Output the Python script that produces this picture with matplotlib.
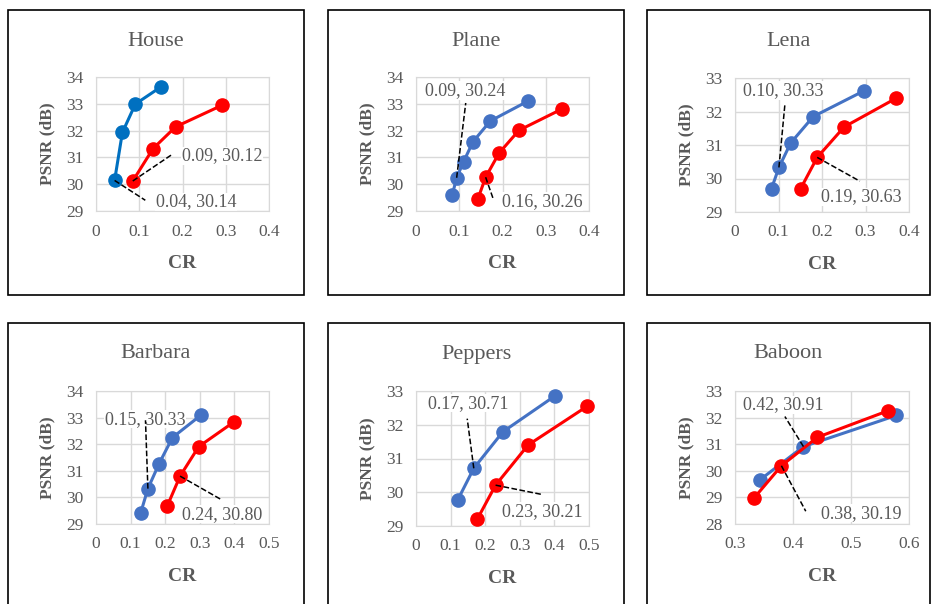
import matplotlib
matplotlib.use("Agg")
import matplotlib.pyplot as plt
from matplotlib.patches import Rectangle

plt.rcParams['font.family'] = ['Liberation Serif', 'DejaVu Serif']

W, H = 931, 604

# ---- data ----
titles = ["House", "Plane", "Lena", "Barbara", "Peppers", "Baboon"]

house_blue_x = [0.043, 0.061, 0.091, 0.150]
house_blue_y = [30.14, 31.93, 32.99, 33.63]
house_red_x = [0.085, 0.132, 0.184, 0.292]
house_red_y = [30.12, 31.33, 32.14, 32.95]

plane_blue_x = [0.084, 0.094, 0.110, 0.132, 0.172, 0.260]
plane_blue_y = [29.61, 30.24, 30.84, 31.59, 32.36, 33.11]
plane_red_x = [0.143, 0.161, 0.192, 0.238, 0.338]
plane_red_y = [29.45, 30.26, 31.16, 32.01, 32.81]

lena_blue_x = [0.084, 0.101, 0.128, 0.180, 0.297]
lena_blue_y = [29.70, 30.33, 31.06, 31.85, 32.62]
lena_red_x = [0.151, 0.189, 0.251, 0.371]
lena_red_y = [29.70, 30.63, 31.54, 32.40]

barbara_blue_x = [0.129, 0.150, 0.182, 0.221, 0.303]
barbara_blue_y = [29.41, 30.33, 31.26, 32.25, 33.09]
barbara_red_x = [0.206, 0.243, 0.297, 0.399]
barbara_red_y = [29.68, 30.80, 31.91, 32.84]

peppers_blue_x = [0.121, 0.167, 0.251, 0.401]
peppers_blue_y = [29.78, 30.71, 31.79, 32.85]
peppers_red_x = [0.177, 0.230, 0.324, 0.495]
peppers_red_y = [29.20, 30.21, 31.40, 32.55]

baboon_blue_x = [0.343, 0.418, 0.578]
baboon_blue_y = [29.66, 30.91, 32.08]
baboon_red_x = [0.333, 0.380, 0.442, 0.563]
baboon_red_y = [28.98, 30.19, 31.26, 32.25]

blue_x = [house_blue_x, plane_blue_x, lena_blue_x, barbara_blue_x, peppers_blue_x, baboon_blue_x]
blue_y = [house_blue_y, plane_blue_y, lena_blue_y, barbara_blue_y, peppers_blue_y, baboon_blue_y]
red_x = [house_red_x, plane_red_x, lena_red_x, barbara_red_x, peppers_red_x, baboon_red_x]
red_y = [house_red_y, plane_red_y, lena_red_y, barbara_red_y, peppers_red_y, baboon_red_y]

x_ranges = [(0, 0.4), (0, 0.4), (0, 0.4), (0, 0.5), (0, 0.5), (0.3, 0.6)]
y_ranges = [(29, 34), (29, 34), (29, 33), (29, 34), (29, 33), (28, 33)]

# labelled points: (series, index), text pos (left x, center y), leader end
labels = [
    [("blue", 0, 0.138, 29.34, 0.114, 29.40), ("red", 0, 0.198, 31.05, 0.175, 31.10)],
    [("blue", 1, 0.021, 33.50, 0.115, 33.03), ("red", 1, 0.198, 29.36, 0.179, 29.43)],
    [("blue", 1, 0.019, 32.63, 0.115, 32.25), ("red", 1, 0.197, 29.45, 0.287, 29.92)],
    [("blue", 1, 0.025, 32.94, 0.143, 32.90), ("red", 1, 0.248, 29.37, 0.363, 29.91)],
    [("blue", 1, 0.034, 32.64, 0.148, 32.18), ("red", 1, 0.248, 29.44, 0.366, 29.93)],
    [("blue", 1, 0.314, 32.48, 0.386, 32.04), ("red", 1, 0.448, 28.41, 0.422, 28.48)],
]

# ---- layout in pixels ----
ax_px = [(96, 77, 269, 211), (416, 77, 589, 211), (735, 78, 909, 212),
         (96, 391, 269, 524), (416, 391, 589, 526), (735, 391, 909, 524)]
box_px = [(8, 10, 304, 295), (328, 10, 624, 295), (647, 10, 930, 295),
          (8, 323, 304, 640), (328, 323, 624, 640), (647, 323, 930, 640)]

grey = "#595959"
blue_cols = ["#0070C0", "#4472C4", "#4472C4", "#4472C4", "#4472C4", "#4472C4"]

fig = plt.figure(figsize=(W / 100, H / 100), dpi=100)

for i in range(6):
    l, t, r, b = box_px[i]
    fig.add_artist(Rectangle((l / W, 1 - b / H), (r - l) / W, (b - t) / H,
                             transform=fig.transFigure, fill=False,
                             edgecolor="black", lw=1.2, clip_on=False))

    l, t, r, b = ax_px[i]
    ax = fig.add_axes([l / W, 1 - b / H, (r - l) / W, (b - t) / H])
    x0, x1 = x_ranges[i]
    y0, y1 = y_ranges[i]
    ax.set_xlim(x0, x1)
    ax.set_ylim(y0, y1)
    xt = [round(x0 + k * 0.1, 1) for k in range(int(round((x1 - x0) / 0.1)) + 1)]
    ax.set_xticks(xt)
    ax.set_xticklabels([("0" if v == 0 else f"{v:g}") for v in xt])
    ax.set_yticks(range(y0, y1 + 1))
    ax.grid(True, color="#D9D9D9", lw=1)
    ax.set_axisbelow(True)
    for s in ax.spines.values():
        s.set_color("#D9D9D9")
    ax.tick_params(length=0, labelsize=12.5, colors=grey, pad=9)

    ax.plot(blue_x[i], blue_y[i], "-o", color=blue_cols[i], lw=2.2, ms=9.5,
            zorder=3, clip_on=False)
    ax.plot(red_x[i], red_y[i], "-o", color="#FF0000", lw=2.2, ms=9.5,
            zorder=4, clip_on=False)

    for ser, idx, tx, ty, ex, ey in labels[i]:
        px = blue_x[i][idx] if ser == "blue" else red_x[i][idx]
        py = blue_y[i][idx] if ser == "blue" else red_y[i][idx]
        ax.plot([px, ex], [py, ey], "--", color="black", lw=1.1, zorder=5)
        ax.text(tx, ty, f"{px:.2f}, {py:.2f}", ha="left", va="center",
                fontsize=13, color=grey, zorder=2.5, clip_on=False,
                bbox=dict(facecolor="white", edgecolor="none", pad=0.5))

    ax.set_xlabel("CR", fontsize=14, fontweight="bold", color=grey, labelpad=11)
    ax.set_ylabel("PSNR (dB)", fontsize=12.5, fontweight="bold", color=grey, labelpad=8)

    bl, bt, br, bb = box_px[i]
    ty_px = 42 if i < 3 else 354
    fig.text((bl + br) / 2 / W, 1 - ty_px / H, titles[i], ha="center", va="center",
             fontsize=16, color=grey)

fig.savefig("out.png", dpi=100)
